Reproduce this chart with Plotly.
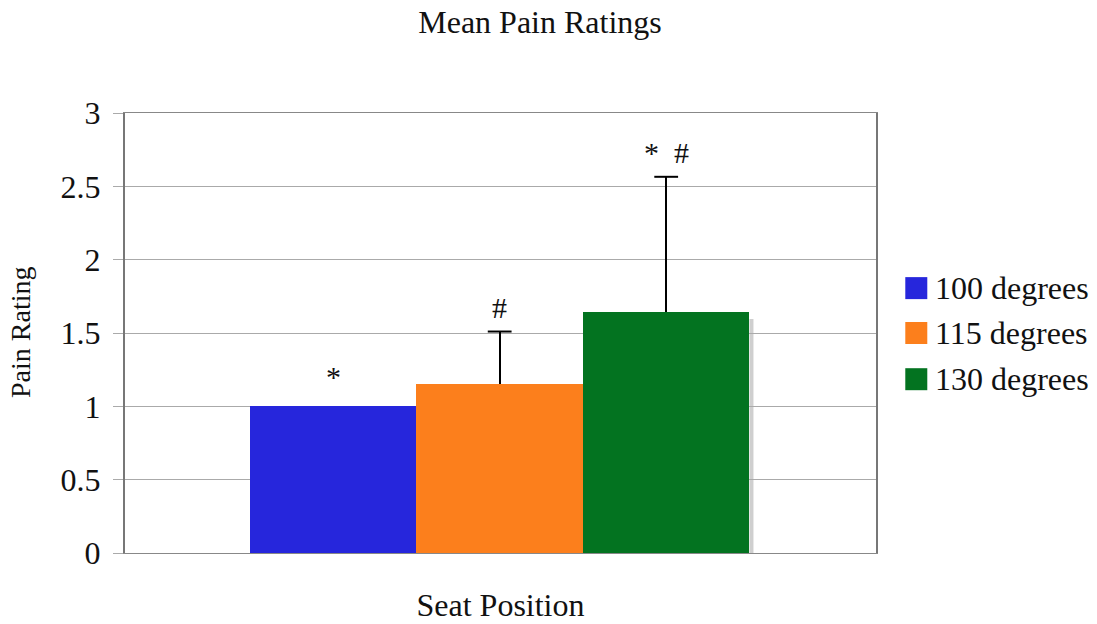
import plotly.graph_objects as go

# Mean pain rating per seat-back angle, with upward standard deviations
positions = ["100 degrees", "115 degrees", "130 degrees"]
means = [1.0, 1.15, 1.645]
err_up = [0.0, 0.36, 0.92]
colors = ["#2626DC", "#FC7F1C", "#037320"]
marks = ["*", "#", "*  #"]
y_ticks = [0, 0.5, 1, 1.5, 2, 2.5, 3]
y_tick_text = ["0", "0.5", "1", "1.5", "2", "2.5", "3"]

FONT = "Liberation Serif"
TEXT = "#111111"
PLOT_W, PLOT_H = 751, 440

fig = go.Figure()

# soft drop shadow along the right edge of the last bar
last = len(positions) - 1
fig.add_shape(type="rect", xref="x", yref="y", layer="below",
              x0=last + 0.5, x1=last + 0.5 + 4 / 166.5,
              y0=0, y1=means[last] - 0.05,
              fillcolor="#CFCFCF", line=dict(width=0))

# bars with the upward error stems (no caps here; caps are drawn separately)
fig.add_trace(go.Bar(
    x=positions, y=means, marker=dict(color=colors, line=dict(width=0)),
    error_y=dict(type="data", symmetric=False,
                 array=[e if e > 0 else None for e in err_up],
                 arrayminus=[0] * len(err_up), color="black", thickness=2, width=0),
    showlegend=False,
))

# caps at the top end of each error bar
cap_x = [p for p, e in zip(positions, err_up) if e > 0]
cap_y = [m + e for m, e in zip(means, err_up) if e > 0]
fig.add_trace(go.Scatter(
    x=cap_x, y=cap_y, mode="markers",
    marker=dict(symbol="line-ew", size=17, line=dict(color="black", width=2)),
    showlegend=False, hoverinfo="skip",
))

# significance markers above each bar
for p, m, e, t in zip(positions, means, err_up, marks):
    fig.add_annotation(
        x=p, y=m + e, text=t, showarrow=False, yanchor="middle",
        yshift=24 if e > 0 else 30, font=dict(family=FONT, size=30, color=TEXT),
    )

# legend: colour swatch plus label for each seat position
leg_x0, leg_y = 1.039, [0.602, 0.5, 0.395]
for name, c, yy in zip(positions, colors, leg_y):
    fig.add_shape(type="rect", xref="paper", yref="paper",
                  x0=leg_x0, x1=leg_x0 + 22 / PLOT_W,
                  y0=yy - 11 / PLOT_H, y1=yy + 11 / PLOT_H,
                  fillcolor=c, line=dict(width=0))
    fig.add_annotation(xref="paper", yref="paper", x=leg_x0 + 28 / PLOT_W, y=yy,
                       xanchor="left", yanchor="middle", text=name, showarrow=False,
                       font=dict(family=FONT, size=32, color=TEXT))

# vertical axis title
fig.add_annotation(xref="paper", yref="paper", x=-105 / PLOT_W, y=0.5,
                   xanchor="center", yanchor="middle", textangle=-90,
                   text="Pain Rating", showarrow=False,
                   font=dict(family=FONT, size=28, color=TEXT))

fig.update_layout(
    width=1097, height=624,
    margin=dict(l=125, r=221, t=113, b=71),
    paper_bgcolor="white", plot_bgcolor="white",
    font=dict(family=FONT, color=TEXT),
    title=dict(text="Mean Pain Ratings", x=540 / 1097, xref="container",
               xanchor="center", y=1 - 22 / 624, yanchor="middle",
               font=dict(size=32)),
    barmode="overlay", bargap=0,
    xaxis=dict(range=[-1.25, 3.26], showticklabels=False, ticks="",
               showline=True, linecolor="#888888", linewidth=1, mirror=True,
               automargin=False,
               title=dict(text="Seat Position", font=dict(size=32), standoff=40)),
    yaxis=dict(range=[0, 3], tickvals=y_ticks, ticktext=y_tick_text,
               showgrid=True, gridcolor="#AAAAAA", gridwidth=1,
               showline=True, linecolor="#777777", linewidth=2, mirror=True,
               ticks="outside", ticklen=10, tickcolor="#AAAAAA",
               ticklabelstandoff=6, automargin=False,
               tickfont=dict(size=32), zeroline=False),
)

fig.write_html("out.html")
